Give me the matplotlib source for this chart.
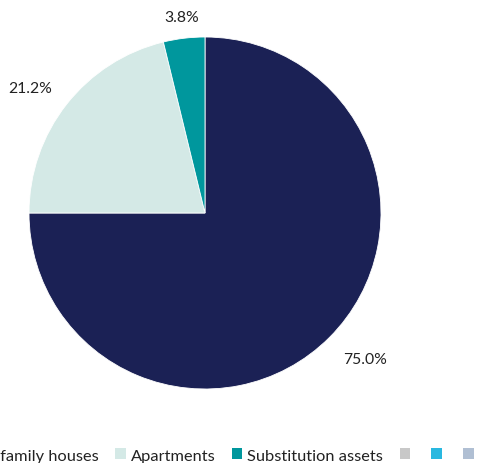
import matplotlib.pyplot as plt
from matplotlib.patches import Patch
import numpy as np

labels = ['Single-family houses', 'Apartments', 'Substitution assets']
values = [75.0, 21.2, 3.8]
colors = ['#1b2155', '#d4e9e6', '#00979d']

# extra legend entries without text
extra_colors = ['#c8c8c8', '#29b8e0', '#b0bfd3']

plt.rcParams['font.family'] = ['Lato', 'DejaVu Sans']

fig = plt.figure(figsize=(4.78, 4.64), dpi=100)
ax = fig.add_axes([29 / 478, 74 / 464, 352 / 478, 352 / 464])

wedges = ax.pie(values, colors=colors, startangle=90, counterclock=False,
                wedgeprops={'linewidth': 0.6, 'edgecolor': 'white'})[0]

# percentage labels outside the pie (slightly nudged like the original)
start = 90.0
dists = [1.23, 1.22, 1.12]
nudge = [2.5, 2.7, 0.0]
for v, d, n in zip(values, dists, nudge):
    mid = np.deg2rad(start - v * 3.6 / 2 + n)
    ax.text(d * np.cos(mid), d * np.sin(mid), f'{v:.1f}%', ha='center', va='center',
            fontsize=11.3, color='#222222')
    start -= v * 3.6
ax.set_aspect('equal')
ax.set_xlim(-1, 1)
ax.set_ylim(-1, 1)

handles = [Patch(facecolor=c, edgecolor='none') for c in colors + extra_colors]
leg_labels = labels + ['', '', '']
fig.legend(handles, leg_labels, loc='lower right', bbox_to_anchor=(1.033, -0.031),
           ncol=6, frameon=False, fontsize=11.8, handlelength=0.65, handleheight=0.65,
           handletextpad=0.3, columnspacing=1.0, labelcolor='#222222')

fig.savefig('out.png', dpi=100)
